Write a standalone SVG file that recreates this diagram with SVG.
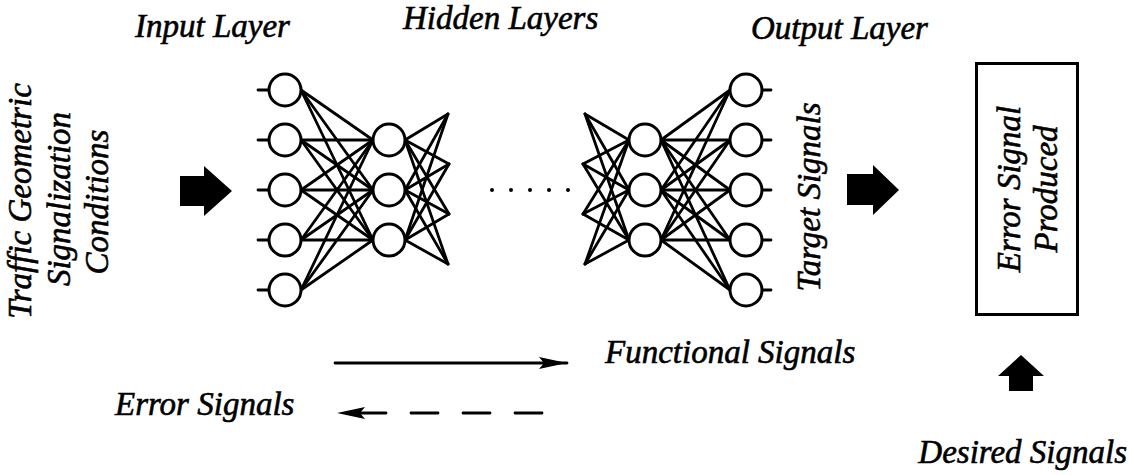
<svg xmlns="http://www.w3.org/2000/svg" width="1132" height="475" viewBox="0 0 1132 475">
  <style>
    .lbl { font-family: "Liberation Serif", "Times New Roman", serif; font-style: italic; font-size: 33px; fill: #000; stroke: #000; stroke-width: 0.6; }
    .node { fill: #fff; stroke: #000; stroke-width: 3; }
    .wire { stroke: #000; stroke-width: 2.8; fill: none; stroke-linecap: round; }
    .block { fill: #000; }
    .dot { fill: #000; }
  </style>
  <defs>
    <marker id="head" markerUnits="userSpaceOnUse" markerWidth="30" markerHeight="14" refX="28" refY="6" orient="auto" overflow="visible">
      <path d="M0,0 L28,6 L0,12 L5,6 Z" fill="#000"/>
    </marker>
  </defs>
  <rect width="1132" height="475" fill="#fff"/>

  <!-- layer titles -->
  <g id="titles">
    <text class="lbl" x="135" y="37">Input Layer</text>
    <text class="lbl" x="403" y="29">Hidden Layers</text>
    <text class="lbl" x="751" y="39">Output Layer</text>
  </g>

  <!-- input description, written bottom-to-top -->
  <g id="inputs-label">
    <text class="lbl" text-anchor="middle" transform="translate(31,201) rotate(-90)">Traffic Geometric</text>
    <text class="lbl" text-anchor="middle" transform="translate(70,199) rotate(-90)">Signalization</text>
    <text class="lbl" text-anchor="middle" transform="translate(108,202) rotate(-90)">Conditions</text>
  </g>

  <!-- connectors -->
  <g id="connectors">
    <!-- input stubs -->
    <line class="wire" x1="258" y1="90" x2="270" y2="90"/>
    <line class="wire" x1="258" y1="140" x2="270" y2="140"/>
    <line class="wire" x1="258" y1="190" x2="270" y2="190"/>
    <line class="wire" x1="258" y1="240" x2="270" y2="240"/>
    <line class="wire" x1="258" y1="290" x2="270" y2="290"/>
    <!-- input -> first hidden layer -->
    <line class="wire" x1="301" y1="90" x2="373" y2="140"/>
    <line class="wire" x1="301" y1="90" x2="373" y2="190"/>
    <line class="wire" x1="301" y1="90" x2="373" y2="240"/>
    <line class="wire" x1="301" y1="140" x2="373" y2="140"/>
    <line class="wire" x1="301" y1="140" x2="373" y2="190"/>
    <line class="wire" x1="301" y1="140" x2="373" y2="240"/>
    <line class="wire" x1="301" y1="190" x2="373" y2="140"/>
    <line class="wire" x1="301" y1="190" x2="373" y2="190"/>
    <line class="wire" x1="301" y1="190" x2="373" y2="240"/>
    <line class="wire" x1="301" y1="240" x2="373" y2="140"/>
    <line class="wire" x1="301" y1="240" x2="373" y2="190"/>
    <line class="wire" x1="301" y1="240" x2="373" y2="240"/>
    <line class="wire" x1="301" y1="290" x2="373" y2="140"/>
    <line class="wire" x1="301" y1="290" x2="373" y2="190"/>
    <line class="wire" x1="301" y1="290" x2="373" y2="240"/>
    <!-- first hidden layer fan-out -->
    <line class="wire" x1="405" y1="140" x2="448" y2="114"/>
    <line class="wire" x1="405" y1="140" x2="449" y2="164"/>
    <line class="wire" x1="405" y1="140" x2="449" y2="214"/>
    <line class="wire" x1="405" y1="140" x2="448" y2="264"/>
    <line class="wire" x1="405" y1="190" x2="448" y2="114"/>
    <line class="wire" x1="405" y1="190" x2="449" y2="164"/>
    <line class="wire" x1="405" y1="190" x2="449" y2="214"/>
    <line class="wire" x1="405" y1="190" x2="448" y2="264"/>
    <line class="wire" x1="405" y1="240" x2="448" y2="114"/>
    <line class="wire" x1="405" y1="240" x2="449" y2="164"/>
    <line class="wire" x1="405" y1="240" x2="449" y2="214"/>
    <line class="wire" x1="405" y1="240" x2="448" y2="264"/>
    <!-- last hidden layer fan-in -->
    <line class="wire" x1="585" y1="114" x2="629" y2="140"/>
    <line class="wire" x1="585" y1="114" x2="629" y2="190"/>
    <line class="wire" x1="585" y1="114" x2="629" y2="240"/>
    <line class="wire" x1="583" y1="164" x2="629" y2="140"/>
    <line class="wire" x1="583" y1="164" x2="629" y2="190"/>
    <line class="wire" x1="583" y1="164" x2="629" y2="240"/>
    <line class="wire" x1="583" y1="214" x2="629" y2="140"/>
    <line class="wire" x1="583" y1="214" x2="629" y2="190"/>
    <line class="wire" x1="583" y1="214" x2="629" y2="240"/>
    <line class="wire" x1="585" y1="264" x2="629" y2="140"/>
    <line class="wire" x1="585" y1="264" x2="629" y2="190"/>
    <line class="wire" x1="585" y1="264" x2="629" y2="240"/>
    <!-- last hidden layer -> output -->
    <line class="wire" x1="661" y1="140" x2="730" y2="90"/>
    <line class="wire" x1="661" y1="140" x2="730" y2="140"/>
    <line class="wire" x1="661" y1="140" x2="730" y2="190"/>
    <line class="wire" x1="661" y1="140" x2="730" y2="240"/>
    <line class="wire" x1="661" y1="140" x2="730" y2="290"/>
    <line class="wire" x1="661" y1="190" x2="730" y2="90"/>
    <line class="wire" x1="661" y1="190" x2="730" y2="140"/>
    <line class="wire" x1="661" y1="190" x2="730" y2="190"/>
    <line class="wire" x1="661" y1="190" x2="730" y2="240"/>
    <line class="wire" x1="661" y1="190" x2="730" y2="290"/>
    <line class="wire" x1="661" y1="240" x2="730" y2="90"/>
    <line class="wire" x1="661" y1="240" x2="730" y2="140"/>
    <line class="wire" x1="661" y1="240" x2="730" y2="190"/>
    <line class="wire" x1="661" y1="240" x2="730" y2="240"/>
    <line class="wire" x1="661" y1="240" x2="730" y2="290"/>
    <!-- output stubs -->
    <line class="wire" x1="760" y1="90" x2="771" y2="90"/>
    <line class="wire" x1="760" y1="140" x2="771" y2="140"/>
    <line class="wire" x1="760" y1="190" x2="771" y2="190"/>
    <line class="wire" x1="760" y1="240" x2="771" y2="240"/>
    <line class="wire" x1="760" y1="290" x2="771" y2="290"/>
    <!-- block arrows -->
    <path class="block" d="M180,176 H204 V166 L232,191 L204,216 V206 H180 Z"/>
    <path class="block" d="M847,174 H873 V165 L899,190 L873,215 V205 H847 Z"/>
    <path class="block" d="M1009,391 V376 H998 L1021,355 L1044,376 H1033 V391 Z"/>
    <!-- signal direction legend -->
    <line class="wire" x1="335" y1="363" x2="567" y2="363" marker-end="url(#head)"/>
    <line class="wire" x1="542" y1="413" x2="337" y2="413" stroke-dasharray="27 25" stroke-linecap="butt" marker-end="url(#head)"/>
  </g>

  <!-- input layer -->
  <g id="input-layer">
    <circle class="node" cx="285" cy="90" r="16"/>
    <circle class="node" cx="285" cy="140" r="16"/>
    <circle class="node" cx="285" cy="190" r="16"/>
    <circle class="node" cx="285" cy="240" r="16"/>
    <circle class="node" cx="285" cy="290" r="16"/>
  </g>

  <!-- first hidden layer -->
  <g id="hidden-layer-1">
    <circle class="node" cx="389" cy="140" r="16"/>
    <circle class="node" cx="389" cy="190" r="16"/>
    <circle class="node" cx="389" cy="240" r="16"/>
  </g>

  <!-- omitted intermediate layers -->
  <g id="ellipsis">
    <circle class="dot" cx="492" cy="190" r="2"/>
    <circle class="dot" cx="511" cy="190" r="2"/>
    <circle class="dot" cx="530" cy="190" r="2"/>
    <circle class="dot" cx="549" cy="190" r="2"/>
    <circle class="dot" cx="568" cy="190" r="2"/>
  </g>

  <!-- last hidden layer -->
  <g id="hidden-layer-n">
    <circle class="node" cx="645" cy="140" r="16"/>
    <circle class="node" cx="645" cy="190" r="16"/>
    <circle class="node" cx="645" cy="240" r="16"/>
  </g>

  <!-- output layer -->
  <g id="output-layer">
    <circle class="node" cx="746" cy="90" r="16"/>
    <circle class="node" cx="746" cy="140" r="16"/>
    <circle class="node" cx="746" cy="190" r="16"/>
    <circle class="node" cx="746" cy="240" r="16"/>
    <circle class="node" cx="746" cy="290" r="16"/>
  </g>

  <g id="target-signals">
    <text class="lbl" text-anchor="middle" transform="translate(820,197) rotate(-90)">Target Signals</text>
  </g>

  <!-- comparison box -->
  <g id="error-box">
    <rect x="976.5" y="63.5" width="101" height="251" fill="#fff" stroke="#000" stroke-width="3"/>
    <text class="lbl" text-anchor="middle" transform="translate(1020,189) rotate(-90)">Error Signal</text>
    <text class="lbl" text-anchor="middle" transform="translate(1057,189) rotate(-90)">Produced</text>
  </g>

  <g id="legend">
    <text class="lbl" x="605" y="363">Functional Signals</text>
    <text class="lbl" x="115" y="415">Error Signals</text>
  </g>

  <g id="desired-signals">
    <text class="lbl" x="1127" y="463" text-anchor="end">Desired Signals</text>
  </g>
</svg>
